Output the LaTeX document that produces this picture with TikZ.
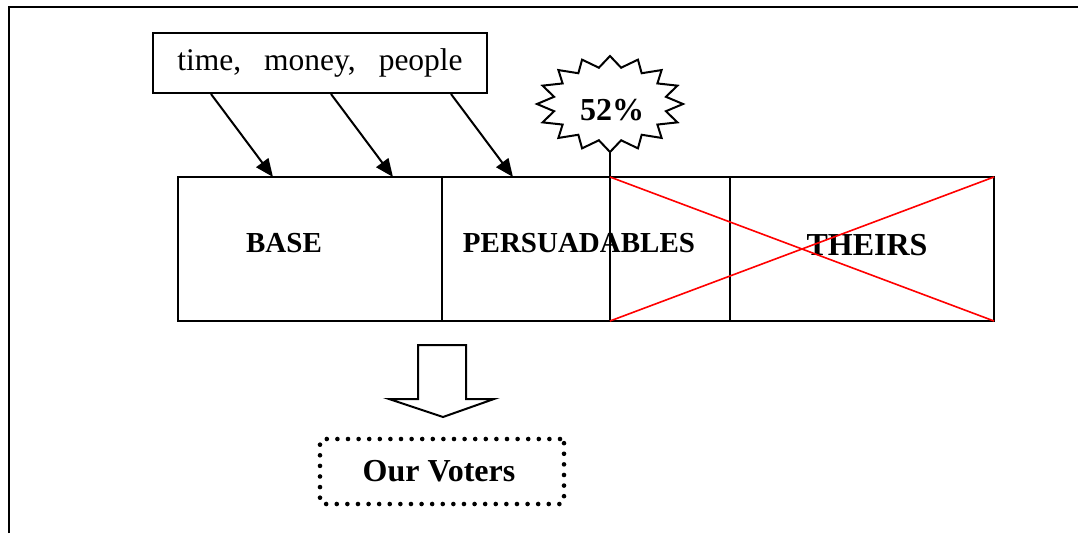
\documentclass[tikz,border=0pt]{standalone}
\usepackage{fontspec}
\setmainfont{Liberation Serif}
\usetikzlibrary{arrows.meta,positioning}
\tikzset{
  cell/.style={draw,line width=2pt,minimum height=144pt,inner sep=0pt,outer sep=0pt},
  celltext/.style={font=\fontsize{29}{34}\selectfont\bfseries,anchor=base,inner sep=0pt},
  bigtext/.style={font=\fontsize{32}{38}\selectfont\bfseries,anchor=base,inner sep=0pt},
  feed/.style={-{Triangle[length=18pt,width=15pt]},line width=2pt},
  redcross/.style={draw=red,line width=1.6pt},
  burstline/.style={line width=2pt,line join=miter},
  dotbox/.style={draw,line width=4.6pt,dash pattern=on 0pt off 10.6pt,line cap=round,rounded corners=4pt,minimum width=244pt,minimum height=65pt}
}
\begin{document}
\begin{tikzpicture}[x=1pt,y=-1pt,node distance=0pt]
  \useasboundingbox (0,0) rectangle (1078,533);
  \draw[line width=2.4pt] (9,533) -- (9,7) -- (1078,7);

  \node[draw,line width=2pt,minimum width=334pt,minimum height=60pt,font=\fontsize{31.5}{37}\selectfont] (res) at (320,63) {time,\hspace{23pt}money,\hspace{23pt}people};

  \node[cell,minimum width=264pt] (base) at (310,249) {};
  \node[cell,minimum width=168pt,right=of base] (persu) {};
  \node[cell,minimum width=120pt,right=of persu] (swing) {};
  \node[cell,minimum width=264pt,right=of swing] (theirs) {};

  \foreach \s/\n/\e in {59/base/95,179/base/215,299/persu/71}{
    \draw[feed] ([xshift=\s pt]res.south west) -- ([xshift=\e pt]\n.north west);
  }

  % the 52% burst on its stem
  \coordinate (burst) at (610,104);
  \draw[burstline,shift={(burst)}] (0,-48)
    \foreach \a in {11.25,33.75,...,348.75}{ -- ({57*sin(\a)},{-37*cos(\a)}) -- ({73*sin(\a+11.25)},{-48*cos(\a+11.25)}) } -- cycle;
  \node[bigtext] (pct) at (612,120) {52\%};
  \draw[line width=2pt] ([yshift=-48pt]burst) -- (swing.north west);

  \node[celltext] (basetxt) at (284,252) {BASE};
  \node[celltext] (persutxt) at (579,252) {PERSUADABLES};
  \node[bigtext] (theirstxt) at (867,255) {THEIRS};

  \draw[redcross] (swing.north west) -- (theirs.south east);
  \draw[redcross] (swing.south west) -- (theirs.north east);

  % block arrow down to our voters
  \draw[line width=2pt,line join=miter] (418,345) -- (466,345) -- (466,399) -- (494,399) -- (443,417) -- (389,399) -- (418,399) -- cycle;
  \node[dotbox,font=\fontsize{32}{38}\selectfont\bfseries] (voters) at (442,471.5) {\hspace{-6pt}Our Voters};
\end{tikzpicture}
\end{document}
